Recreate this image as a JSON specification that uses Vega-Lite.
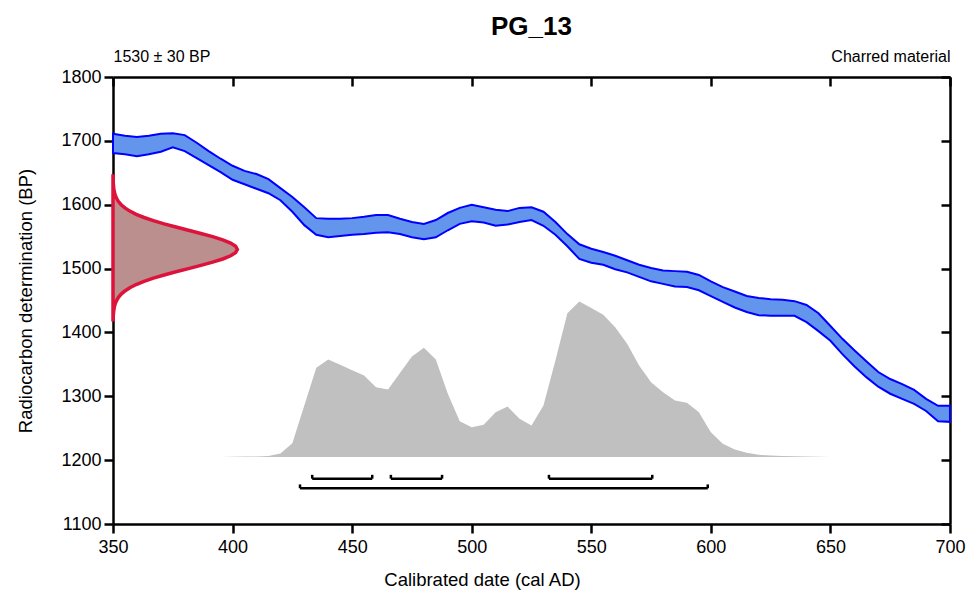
{
  "$schema": "https://vega.github.io/schema/vega-lite/v6.json",
  "width": 837,
  "height": 447,
  "autosize": "none",
  "padding": {"left": 113, "top": 77, "right": 17, "bottom": 68},
  "background": "white",
  "title": {"text": "PG_13", "fontSize": 26, "fontWeight": "bold", "font": "Liberation Sans", "color": "black", "anchor": "middle", "offset": 8},
  "config": {
    "view": {"stroke": null},
    "font": "Liberation Sans",
    "axis": {"domainColor": "black", "tickColor": "black", "labelColor": "black", "titleColor": "black", "grid": false, "domainWidth": 2.5, "tickWidth": 2.5, "labelFontSize": 18, "titleFontSize": 18.5, "titleFontWeight": "normal", "labelFont": "Liberation Sans", "titleFont": "Liberation Sans", "format": "d"}
  },
  "datasets": {
    "prob": [
      {"year": 390, "top": 1205}, {"year": 395, "top": 1205.1}, {"year": 400, "top": 1205.3}, {"year": 405, "top": 1205.6},
      {"year": 410, "top": 1205.8}, {"year": 415, "top": 1206.6}, {"year": 420, "top": 1210.5}, {"year": 425, "top": 1226.5},
      {"year": 430, "top": 1285.6}, {"year": 435, "top": 1344.6}, {"year": 440, "top": 1357.6}, {"year": 445, "top": 1349.3},
      {"year": 450, "top": 1340.6}, {"year": 455, "top": 1332.6}, {"year": 460, "top": 1314.2}, {"year": 465, "top": 1310.6},
      {"year": 470, "top": 1336.3}, {"year": 475, "top": 1362.3}, {"year": 480, "top": 1376}, {"year": 485, "top": 1357.6},
      {"year": 490, "top": 1303.9}, {"year": 495, "top": 1261}, {"year": 500, "top": 1251.5}, {"year": 505, "top": 1255.3},
      {"year": 510, "top": 1275}, {"year": 515, "top": 1284}, {"year": 520, "top": 1264.7}, {"year": 525, "top": 1254.2},
      {"year": 530, "top": 1285.6}, {"year": 535, "top": 1356.1}, {"year": 540, "top": 1430.2}, {"year": 545, "top": 1448.5},
      {"year": 550, "top": 1438.2}, {"year": 555, "top": 1427.7}, {"year": 560, "top": 1408.2}, {"year": 565, "top": 1382.2},
      {"year": 570, "top": 1348.2}, {"year": 575, "top": 1322.1}, {"year": 580, "top": 1306.4}, {"year": 585, "top": 1293.4},
      {"year": 590, "top": 1289.8}, {"year": 595, "top": 1275}, {"year": 600, "top": 1243.7}, {"year": 605, "top": 1225.5},
      {"year": 610, "top": 1216.6}, {"year": 615, "top": 1211.4}, {"year": 620, "top": 1208.3}, {"year": 625, "top": 1207.2},
      {"year": 630, "top": 1206.4}, {"year": 635, "top": 1206}, {"year": 640, "top": 1205.7}, {"year": 645, "top": 1205.3},
      {"year": 650, "top": 1205}
    ],
    "curve": [
      {"year": 350, "hi": 1711, "lo": 1681}, {"year": 355, "hi": 1708, "lo": 1679}, {"year": 360, "hi": 1706, "lo": 1676},
      {"year": 365, "hi": 1708, "lo": 1679}, {"year": 370, "hi": 1711, "lo": 1683}, {"year": 375, "hi": 1712, "lo": 1690},
      {"year": 380, "hi": 1709, "lo": 1684}, {"year": 385, "hi": 1697, "lo": 1673}, {"year": 390, "hi": 1684, "lo": 1662},
      {"year": 395, "hi": 1672, "lo": 1651}, {"year": 400, "hi": 1661, "lo": 1639}, {"year": 405, "hi": 1653, "lo": 1632},
      {"year": 410, "hi": 1648, "lo": 1625}, {"year": 415, "hi": 1640, "lo": 1618}, {"year": 420, "hi": 1626, "lo": 1607},
      {"year": 425, "hi": 1612, "lo": 1589}, {"year": 430, "hi": 1596, "lo": 1568}, {"year": 435, "hi": 1579, "lo": 1553},
      {"year": 440, "hi": 1578, "lo": 1549}, {"year": 445, "hi": 1578, "lo": 1551}, {"year": 450, "hi": 1579, "lo": 1553},
      {"year": 455, "hi": 1581, "lo": 1554}, {"year": 460, "hi": 1584, "lo": 1556}, {"year": 465, "hi": 1584, "lo": 1557},
      {"year": 470, "hi": 1578, "lo": 1554}, {"year": 475, "hi": 1573, "lo": 1549}, {"year": 480, "hi": 1570, "lo": 1546},
      {"year": 485, "hi": 1576, "lo": 1549}, {"year": 490, "hi": 1587, "lo": 1560}, {"year": 495, "hi": 1595, "lo": 1570},
      {"year": 500, "hi": 1600, "lo": 1574}, {"year": 505, "hi": 1596, "lo": 1572}, {"year": 510, "hi": 1592, "lo": 1567},
      {"year": 515, "hi": 1590, "lo": 1569}, {"year": 520, "hi": 1595, "lo": 1573}, {"year": 525, "hi": 1596, "lo": 1576},
      {"year": 530, "hi": 1589, "lo": 1567}, {"year": 535, "hi": 1573, "lo": 1553}, {"year": 540, "hi": 1554, "lo": 1535},
      {"year": 545, "hi": 1538, "lo": 1515}, {"year": 550, "hi": 1531, "lo": 1509}, {"year": 555, "hi": 1526, "lo": 1506},
      {"year": 560, "hi": 1520, "lo": 1499}, {"year": 565, "hi": 1513, "lo": 1494}, {"year": 570, "hi": 1506, "lo": 1487},
      {"year": 575, "hi": 1501, "lo": 1480}, {"year": 580, "hi": 1497, "lo": 1476}, {"year": 585, "hi": 1496, "lo": 1472},
      {"year": 590, "hi": 1495, "lo": 1471}, {"year": 595, "hi": 1490, "lo": 1466}, {"year": 600, "hi": 1480, "lo": 1457},
      {"year": 605, "hi": 1471, "lo": 1448}, {"year": 610, "hi": 1464, "lo": 1439}, {"year": 615, "hi": 1457, "lo": 1432},
      {"year": 620, "hi": 1454, "lo": 1427}, {"year": 625, "hi": 1452, "lo": 1426}, {"year": 630, "hi": 1451, "lo": 1426},
      {"year": 635, "hi": 1449, "lo": 1426}, {"year": 640, "hi": 1443, "lo": 1416}, {"year": 645, "hi": 1430, "lo": 1402},
      {"year": 650, "hi": 1410, "lo": 1387}, {"year": 655, "hi": 1390, "lo": 1366}, {"year": 660, "hi": 1372, "lo": 1347},
      {"year": 665, "hi": 1355, "lo": 1330}, {"year": 670, "hi": 1338, "lo": 1315}, {"year": 675, "hi": 1327, "lo": 1304},
      {"year": 680, "hi": 1319, "lo": 1296}, {"year": 685, "hi": 1310, "lo": 1288}, {"year": 690, "hi": 1296, "lo": 1277},
      {"year": 695, "hi": 1285, "lo": 1261}, {"year": 700, "hi": 1285, "lo": 1260}
    ],
    "gauss": [
      {"bp": 1420, "xv": 350.06}, {"bp": 1425, "xv": 350.11}, {"bp": 1430, "xv": 350.2},
      {"bp": 1435, "xv": 350.35}, {"bp": 1440, "xv": 350.58}, {"bp": 1445, "xv": 350.94}, {"bp": 1450, "xv": 351.49},
      {"bp": 1455, "xv": 352.28}, {"bp": 1460, "xv": 353.42}, {"bp": 1465, "xv": 354.98}, {"bp": 1470, "xv": 357.04},
      {"bp": 1475, "xv": 359.68}, {"bp": 1480, "xv": 362.97}, {"bp": 1485, "xv": 366.88}, {"bp": 1490, "xv": 371.37},
      {"bp": 1495, "xv": 376.33}, {"bp": 1500, "xv": 381.54}, {"bp": 1505, "xv": 386.74}, {"bp": 1510, "xv": 391.64},
      {"bp": 1515, "xv": 395.89}, {"bp": 1520, "xv": 399.19}, {"bp": 1525, "xv": 401.28}, {"bp": 1530, "xv": 402},
      {"bp": 1535, "xv": 401.28}, {"bp": 1540, "xv": 399.19}, {"bp": 1545, "xv": 395.89}, {"bp": 1550, "xv": 391.64},
      {"bp": 1555, "xv": 386.74}, {"bp": 1560, "xv": 381.54}, {"bp": 1565, "xv": 376.33}, {"bp": 1570, "xv": 371.37},
      {"bp": 1575, "xv": 366.88}, {"bp": 1580, "xv": 362.97}, {"bp": 1585, "xv": 359.68}, {"bp": 1590, "xv": 357.04},
      {"bp": 1595, "xv": 354.98}, {"bp": 1600, "xv": 353.42}, {"bp": 1605, "xv": 352.28}, {"bp": 1610, "xv": 351.49},
      {"bp": 1615, "xv": 350.94}, {"bp": 1620, "xv": 350.58}, {"bp": 1625, "xv": 350.35}, {"bp": 1630, "xv": 350.2},
      {"bp": 1635, "xv": 350.11}, {"bp": 1640, "xv": 350.06}, {"bp": 1645, "xv": 350.03}
    ],
    "ranges": [
      {"lo": 433.3, "hi": 458.4, "y": 1171, "ytop": 1177},
      {"lo": 466.2, "hi": 487.6, "y": 1171, "ytop": 1177},
      {"lo": 532.3, "hi": 575.5, "y": 1171, "ytop": 1177},
      {"lo": 428.2, "hi": 598.7, "y": 1156, "ytop": 1162}
    ]
  },
  "resolve": {"axis": {"x": "independent", "y": "independent"}},
  "layer": [
    {
      "data": {"name": "prob"},
      "mark": {"type": "area", "color": "#c0c0c0"},
      "encoding": {
        "x": {"field": "year", "type": "quantitative", "scale": {"domain": [350, 700], "nice": false, "zero": false},
          "axis": {"orient": "bottom", "values": [350, 400, 450, 500, 550, 600, 650, 700], "title": "Calibrated date (cal AD)", "tickSize": 9, "labelPadding": 5, "titlePadding": 14, "titleX": 369, "titleAnchor": "middle", "labelFlush": false}},
        "y": {"field": "top", "type": "quantitative", "scale": {"domain": [1100, 1800], "nice": false, "zero": false},
          "axis": {"orient": "left", "values": [1100, 1200, 1300, 1400, 1500, 1600, 1700, 1800], "title": "Radiocarbon determination (BP)", "tickSize": 9, "labelPadding": 3, "titlePadding": 25, "labelFlush": false}},
        "y2": {"datum": 1205}
      }
    },
    {
      "data": {"name": "ranges"},
      "mark": {"type": "rule", "color": "black", "strokeWidth": 2.5},
      "encoding": {
        "x": {"field": "lo", "type": "quantitative", "scale": {"domain": [350, 700], "nice": false, "zero": false},
          "axis": {"orient": "top", "values": [350, 700], "ticks": false, "domain": false, "title": null, "labelFontSize": 16, "labelPadding": 13, "labelFlush": false, "labelOverlap": false, "labelBound": false,
            "labelExpr": "datum.value <= 350 ? '1530 ± 30 BP' : 'Charred material'",
            "labelAlign": {"condition": {"test": "datum.value <= 350", "value": "left"}, "value": "right"}}},
        "x2": {"field": "hi"},
        "y": {"field": "y", "type": "quantitative", "scale": {"domain": [1100, 1800], "nice": false, "zero": false}, "axis": null}
      }
    },
    {
      "data": {"name": "ranges"},
      "transform": [{"fold": ["lo", "hi"], "as": ["end", "xv"]}],
      "mark": {"type": "rule", "color": "black", "strokeWidth": 2.5},
      "encoding": {
        "x": {"field": "xv", "type": "quantitative", "scale": {"domain": [350, 700], "nice": false, "zero": false}, "axis": null},
        "y": {"field": "y", "type": "quantitative", "scale": {"domain": [1100, 1800], "nice": false, "zero": false}, "axis": null},
        "y2": {"field": "ytop"}
      }
    },
    {
      "data": {"name": "curve"},
      "mark": {"type": "area", "color": "#6495ed", "stroke": "#0000ff", "strokeWidth": 2, "opacity": 1},
      "encoding": {
        "x": {"field": "year", "type": "quantitative", "scale": {"domain": [350, 700], "nice": false, "zero": false},
          "axis": {"orient": "top", "values": [350, 400, 450, 500, 550, 600, 650, 700], "tickSize": -9, "labels": false, "title": null}},
        "y": {"field": "hi", "type": "quantitative", "scale": {"domain": [1100, 1800], "nice": false, "zero": false},
          "axis": {"orient": "right", "values": [1100, 1200, 1300, 1400, 1500, 1600, 1700, 1800], "tickSize": -9, "labels": false, "title": null}},
        "y2": {"field": "lo"}
      }
    },
    {
      "data": {"name": "gauss"},
      "mark": {"type": "area", "orient": "horizontal", "color": "#bc8f8f", "stroke": "#dc143c", "strokeWidth": 3.5, "opacity": 1},
      "encoding": {
        "y": {"field": "bp", "type": "quantitative", "scale": {"domain": [1100, 1800], "nice": false, "zero": false}, "axis": null},
        "x": {"field": "xv", "type": "quantitative", "scale": {"domain": [350, 700], "nice": false, "zero": false}, "axis": null},
        "x2": {"datum": 350}
      }
    }
  ]
}
